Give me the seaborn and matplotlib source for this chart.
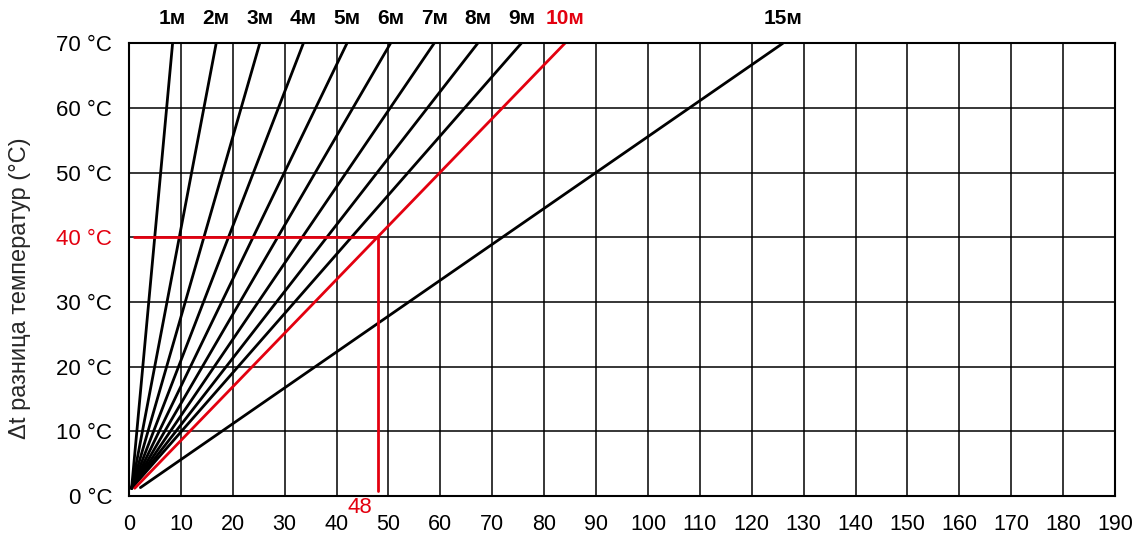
import pandas as pd
import seaborn as sns
import matplotlib.pyplot as plt

# Длины трубы и точки линий
lengths = ["1м", "2м", "3м", "4м", "5м", "6м", "7м", "8м", "9м", "10м", "15м"]
x_start = [0.5, 0.5, 0.5, 0.5, 0.5, 0.5, 0.5, 0.5, 0.5, 1.1, 2.2]
y_start = [1.2, 1.2, 1.2, 1.2, 1.2, 1.2, 1.2, 1.2, 1.2, 1.2, 1.3]
x_end = [8.4, 16.8, 25.2, 33.6, 42.0, 50.4, 58.8, 67.2, 75.6, 84.0, 126.0]
y_end = [70] * 11

x_ticks = list(range(0, 200, 10))
y_ticks = list(range(0, 80, 10))
y_ticklabels = [f"{v} °C" for v in y_ticks]

# Пример: 10 м при 40 °C -> 48 мм
example_length = "10м"
example_dt = 40
example_dx = 48

RED = "#e3000f"


def build_frame():
    rows = []
    for name, xs, ys, xe, ye in zip(lengths, x_start, y_start, x_end, y_end):
        rows.append({"length": name, "x": xs, "y": ys})
        rows.append({"length": name, "x": xe, "y": ye})
    return pd.DataFrame(rows)


def main():
    sns.set_theme(style="white")
    plt.rcParams["font.family"] = ["Liberation Sans", "DejaVu Sans"]

    df = build_frame()
    palette = {name: (RED if name == example_length else "black") for name in lengths}

    fig = plt.figure(figsize=(11.35, 5.33), dpi=100)
    ax = fig.add_axes([129 / 1135, 0.0694, (1115 - 129) / 1135, 0.8494])

    sns.lineplot(data=df, x="x", y="y", hue="length", palette=palette,
                 estimator=None, sort=False, legend=False, linewidth=2.0, ax=ax)

    # красные линии примера
    ax.plot([0.9, example_dx], [example_dt, example_dt], color=RED, lw=2.0, zorder=3)
    ax.plot([example_dx, example_dx], [0.8, example_dt], color=RED, lw=2.0, zorder=3)

    ax.set_xlim(0, 190)
    ax.set_ylim(0, 70)
    ax.set_xticks(x_ticks)
    ax.set_yticks(y_ticks)
    ax.set_yticklabels(y_ticklabels)
    ax.tick_params(axis="x", length=0, pad=13, labelsize=15.5, colors="black")
    ax.tick_params(axis="y", length=0, pad=12, labelsize=16, colors="black")
    for lab in ax.get_yticklabels():
        if lab.get_text() == f"{example_dt} °C":
            lab.set_color(RED)

    ax.grid(True, color="black", linewidth=1.1)
    ax.set_axisbelow(True)
    for side, sp in ax.spines.items():
        sp.set_color("black")
        sp.set_linewidth(1.5)

    ax.set_xlabel("")
    ax.set_ylabel("")
    fig.text(20 / 1135, 1 - 288 / 533, "Δt разница температур (°C)", rotation=90,
             ha="center", va="center", fontsize=17)

    # подписи длин над линиями
    for name, xe in zip(lengths, x_end):
        ax.text(xe, 73.9, name, ha="center", va="center", fontsize=15, fontweight="bold",
                color=palette[name], clip_on=False)

    ax.text(44.4, -1.8, str(example_dx), ha="center", va="center", fontsize=16,
            color=RED, clip_on=False)

    fig.savefig("out.png", dpi=100)


if __name__ == "__main__":
    main()
